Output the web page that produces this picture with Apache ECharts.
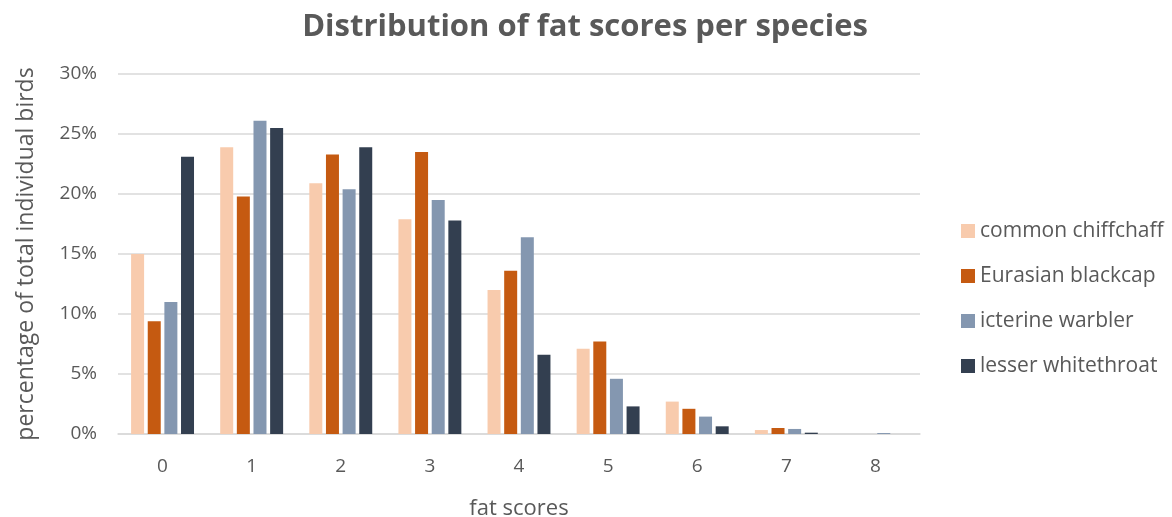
<!DOCTYPE html>
<html><head><meta charset="utf-8">
<script src="https://cdn.jsdelivr.net/npm/echarts@6/dist/echarts.min.js"></script>
<style>html,body{margin:0;padding:0;background:#fff}#c{width:1172px;height:517px}</style>
</head><body><div id="c"></div>
<script>
const categories = ['0','1','2','3','4','5','6','7','8'];
const seriesNames = ['common chiffchaff','Eurasian blackcap','icterine warbler','lesser whitethroat'];
const chiffchaff = [15.0, 23.9, 20.9, 17.9, 12.0, 7.1, 2.7, 0.33, 0];
const blackcap   = [9.4, 19.8, 23.3, 23.5, 13.6, 7.7, 2.1, 0.5, 0];
const icterine   = [11.0, 26.1, 20.4, 19.5, 16.4, 4.6, 1.45, 0.42, 0.08];
const lesser     = [23.1, 25.5, 23.9, 17.8, 6.6, 2.3, 0.64, 0.11, 0];
const colors = ['#F8CBAD','#C55A11','#8497B0','#333F50'];
const yTicks = [0,5,10,15,20,25,30];

const FONT = 'Open Sans';
const TXT = '#595959';
const dataSets = [chiffchaff, blackcap, icterine, lesser];

const chart = echarts.init(document.getElementById('c'), null, {renderer:'canvas'});
chart.setOption({
  animation:false,
  backgroundColor:'#fff',
  color: colors,
  textStyle:{fontFamily:FONT, color:TXT},
  title:{text:'Distribution of fat scores per species', left:580, textAlign:'center', top:7,
    textStyle:{fontFamily:FONT, fontWeight:'bold', fontSize:31, color:TXT}},
  legend:{orient:'vertical', left:956, top:215, itemWidth:14, itemHeight:14, itemGap:23,
    icon:'rect', textStyle:{fontFamily:FONT, fontSize:21, lineHeight:22, color:TXT, padding:[0,0,0,0]},
    data: seriesNames},
  grid:{left:118, right:252, top:74, bottom:83, containLabel:false, outerBoundsMode:'none'},
  xAxis:{type:'category', data:categories,
    name:'fat scores', nameLocation:'middle', nameGap:64,
    nameTextStyle:{fontFamily:FONT, fontSize:22, color:TXT},
    axisLine:{lineStyle:{color:'#D9D9D9', width:1.5}}, axisTick:{show:false},
    axisLabel:{fontFamily:FONT, fontSize:19, color:TXT, margin:23}},
  yAxis:{type:'value', min:yTicks[0], max:yTicks[yTicks.length-1], interval:5,
    name:'percentage of total individual birds', nameLocation:'middle', nameGap:80,
    nameTextStyle:{fontFamily:FONT, fontSize:23, color:TXT},
    axisLine:{show:false}, axisTick:{show:false},
    splitLine:{lineStyle:{color:'#D9D9D9', width:1.5}},
    axisLabel:{fontFamily:FONT, fontSize:19, color:TXT, margin:21, formatter: v => v + '%'}},
  series: seriesNames.map((n,i)=>({
    name:n, type:'bar', data:dataSets[i], barWidth:13, barGap:'28%',
    itemStyle:{color:colors[i]}
  }))
});
</script></body></html>
